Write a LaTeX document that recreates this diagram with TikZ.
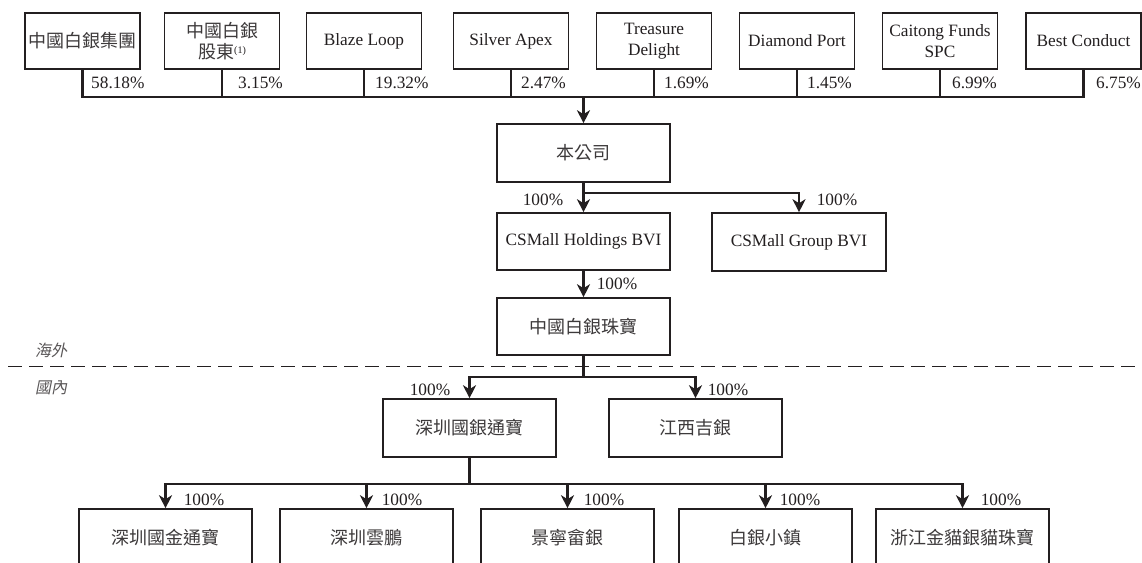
\documentclass[tikz,border=0pt]{standalone}
\usepackage{fontspec}
\setmainfont{Liberation Serif}
\newfontfamily\cjk{Noto Sans CJK TC}
\newfontfamily\cjkit[FakeSlant=0.2]{Noto Sans CJK TC}
\usetikzlibrary{arrows.meta,calc}
\definecolor{ink}{RGB}{35,31,32}
\newcommand\zh[1]{{\cjk\fontsize{18pt}{22pt}\selectfont\color{ink!88}#1}}
\begin{document}
\begin{tikzpicture}[x=1pt,y=-1pt,
  every node/.style={font=\fontsize{17.3pt}{21pt}\selectfont, text=ink, inner sep=0pt},
  topbox/.style={draw=ink, line width=1.6pt, minimum width=115pt, minimum height=56pt, align=center},
  midbox/.style={draw=ink, line width=1.6pt, minimum width=173pt, minimum height=58pt, align=center},
  conn/.style={draw=ink, line width=2.2pt},
  arr/.style={conn, -{Stealth[length=13pt,width=13pt,inset=4pt]}},
  pct/.style={anchor=west},
  region/.style={font=\cjkit\fontsize{16pt}{16pt}\selectfont, text=ink!75, anchor=west},
  divider/.style={draw=ink, line width=1.8pt, dash pattern=on 14pt off 7pt}
]
\clip (0,0) rectangle (1142,562);
\fill[white] (0,0) rectangle (1142,562);

% top shareholders
\node[topbox] (t1) at (82.5,41) {\zh{中國白銀集團}};
\node[topbox] (t2) at (222,41) {\zh{中國白銀}\\\zh{股東}\raisebox{5pt}{\fontsize{10pt}{10pt}\selectfont(1)}};
\node[topbox] (t3) at (364,41) {Blaze Loop};
\node[topbox] (t4) at (511,41) {Silver Apex};
\node[topbox] (t5) at (654,41) {Treasure\\Delight};
\node[topbox] (t6) at (797,41) {Diamond Port};
\node[topbox] (t7) at (940,41) {Caitong Funds\\SPC};
\node[topbox] (t8) at (1083.5,41) {Best Conduct};

% company and subsidiaries
\node[midbox] (co) at (583.5,153) {\zh{本公司}};
\node[midbox, minimum height=57pt] (hold) at (583.5,241.5) {CSMall Holdings BVI};
\node[midbox, minimum width=174pt] (grp) at (799,242) {CSMall Group BVI};
\node[midbox, minimum height=57pt] (jw) at (583.5,326.5) {\zh{中國白銀珠寶}};
\node[midbox] (sz) at (469.5,428) {\zh{深圳國銀通寶}};
\node[midbox] (jx) at (695.5,428) {\zh{江西吉銀}};
\node[midbox] (c1) at (165.5,538) {\zh{深圳國金通寶}};
\node[midbox] (c2) at (366.5,538) {\zh{深圳雲鵬}};
\node[midbox] (c3) at (567.5,538) {\zh{景寧畲銀}};
\node[midbox] (c4) at (765.5,538) {\zh{白銀小鎮}};
\node[midbox] (c5) at (962.5,538) {\zh{浙江金貓銀貓珠寶}};

% overseas / domestic divider
\coordinate (dl) at (8,366.5);
\coordinate (dr) at (1142,366.5);
\draw[divider] (dl) -- (dr);
\node[region] (ow) at (35,350) {海外};
\node[region] (dm) at (35,388) {國內};

% shareholder bus
\coordinate (bus) at (0,97);
\draw[conn] (t1.south) -- (t1.south |- bus) -- (t8.south |- bus) -- (t8.south);
\foreach \n in {t2,t3,t4,t5,t6,t7} \draw[conn] (\n.south) -- (\n.south |- bus);
\draw[arr] (co.north |- bus) -- (co.north);

\node[pct] (p1) at (91,83) {58.18\%};
\node[pct] (p2) at (238,83) {3.15\%};
\node[pct] (p3) at (375,83) {19.32\%};
\node[pct] (p4) at (521,83) {2.47\%};
\node[pct] (p5) at (664,83) {1.69\%};
\node[pct] (p6) at (807,83) {1.45\%};
\node[pct] (p7) at (952,83) {6.99\%};
\node[pct] (p8) at (1096,83) {6.75\%};

% company to BVIs
\draw[arr] (co.south) -- (hold.north);
\draw[arr] ($(co.south)+(0,10)$) -| (grp.north);
\node (l1) at (543,200) {100\%};
\node (l2) at (837,200) {100\%};

\draw[arr] (hold.south) -- (jw.north);
\node (l3) at (617,284) {100\%};

% to domestic
\draw[conn] (jw.south) -- ++(0,21) coordinate (b2);
\draw[arr] (b2) -| (sz.north);
\draw[arr] (b2) -| (jx.north);
\node (l4) at (430,390) {100\%};
\node (l5) at (728,390) {100\%};

\draw[conn] (sz.south) -- ++(0,26) coordinate (b3);
\foreach \c in {c1,c2,c3,c4,c5} \draw[arr] (b3) -| (\c.north);
\node (l6) at (204,500) {100\%};
\node (l7) at (402,500) {100\%};
\node (l8) at (604,500) {100\%};
\node (l9) at (800,500) {100\%};
\node (l10) at (1001,500) {100\%};
\end{tikzpicture}
\end{document}
